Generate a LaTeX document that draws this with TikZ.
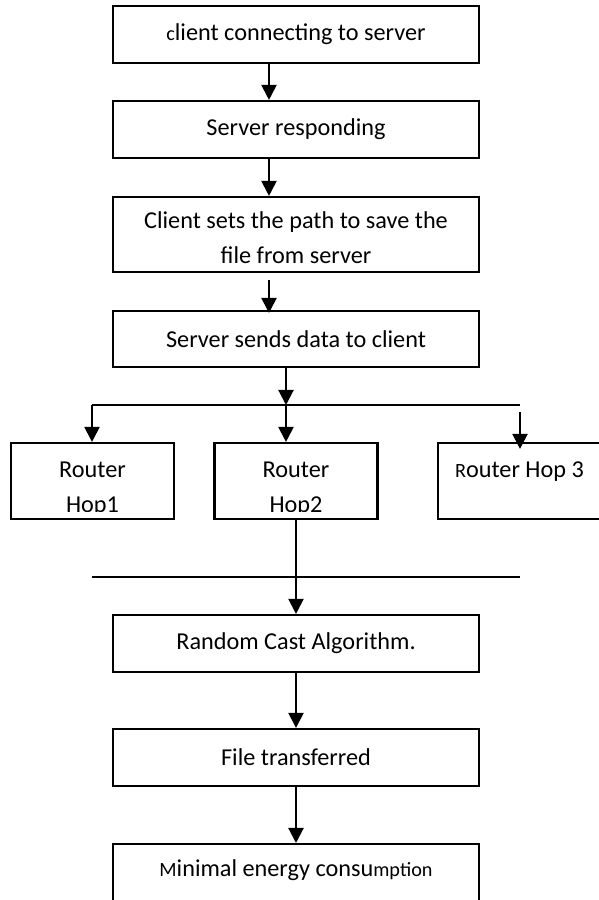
\documentclass[tikz,border=0pt]{standalone}
\usepackage{fontspec}
\setmainfont{Carlito}
\usepackage{tikz}
\usetikzlibrary{arrows.meta}

\newcommand{\smallpart}[1]{{\fontsize{11.5}{13}\selectfont #1}}

\begin{document}
\begin{tikzpicture}[
    box/.style={draw, line width=1.2pt, minimum width=7.32cm, minimum height=1.14cm, inner sep=0pt, font=\fontsize{13.8}{19.9}\selectfont},
    hop/.style={box, minimum width=3.26cm, minimum height=1.52cm},
    txt/.style={inner sep=0pt, align=center, font=\fontsize{13.8}{19.9}\selectfont},
    arr/.style={-{Triangle[width=0.3cm,length=0.3cm]}, line width=1.2pt},
    bus/.style={line width=1.2pt}
  ]
  \useasboundingbox (0,0) rectangle (11.98,18);
  \clip (0,0) rectangle (11.98,18);
  % Steps from client to server
  \node[box] (connect) at (5.92,17.31) {\smallpart{c}lient connecting to server};
  \node[box] (respond) at (5.92,15.41) {Server responding};
  \node[box, minimum height=1.5cm] (setpath) at (5.92,13.31) {};
  \begin{scope}
    \clip ([yshift=0.18cm]setpath.south west) rectangle (setpath.north east);
    \node[txt] (setpathtxt) at (5.92,13.24) {Client sets the path to save the\\file from server};
  \end{scope}
  \node[box, minimum height=1.12cm] (senddata) at (5.92,11.22) {Server sends data to client};
  \draw[arr] ([xshift=-0.54cm]connect.south) -- ([xshift=-0.54cm]respond.north);
  \draw[arr] ([xshift=-0.54cm]respond.south) -- ([xshift=-0.54cm]setpath.north);
  \draw[arr] ([xshift=-0.54cm,yshift=-0.14cm]setpath.south) -- ([xshift=-0.54cm,yshift=-0.06cm]senddata.north);
  % Split to the routers
  \coordinate (split) at (5.72,9.9);
  \coordinate (busleft) at (1.84,9.9);
  \coordinate (busright) at (10.4,9.9);
  \draw[bus] (busleft) -- (busright);
  \draw[arr] ([xshift=-0.2cm]senddata.south) -- (split);
  \node[hop] (hopone) at (1.85,8.38) {};
  \node[hop] (hoptwo) at (5.92,8.38) {};
  \node[hop] (hopthree) at (10.39,8.38) {};
  \begin{scope}
    \clip ([yshift=0.18cm]hopone.south west) rectangle (hoptwo.north east);
    \node[txt] (hoponetxt) at (1.85,8.22) {Router\\Hop1};
    \node[txt] (hoptwotxt) at (5.92,8.22) {Router\\Hop2};
  \end{scope}
  \node[txt] (hopthreetxt) at (10.39,8.56) {\smallpart{R}outer Hop 3};
  \draw[arr] (busleft) -- (busleft |- hopone.north);
  \draw[arr] (split) -- (split |- hoptwo.north);
  \draw[arr] ([yshift=-0.14cm]busright) -- ([yshift=-0.14cm]busright |- hopthree.north);
  % Join line and the last steps
  \coordinate (joinleft) at (1.84,6.46);
  \coordinate (joinright) at (10.4,6.46);
  \draw[bus] (joinleft) -- (joinright);
  \node[box] (random) at (5.92,5.13) {Random Cast Algorithm.};
  \node[box] (transfer) at (5.92,2.85) {File transferred};
  \node[box, minimum height=1.4cm, anchor=north] (minimal) at (5.92,1.14) {};
  \node[txt] (minimaltxt) at (5.92,0.6) {\smallpart{M}inimal energy consu\smallpart{mption}};
  \draw[arr] (hoptwo.south) -- (random.north);
  \draw[arr] (random.south) -- (transfer.north);
  \draw[arr] (transfer.south) -- (minimal.north);
\end{tikzpicture}
\end{document}
